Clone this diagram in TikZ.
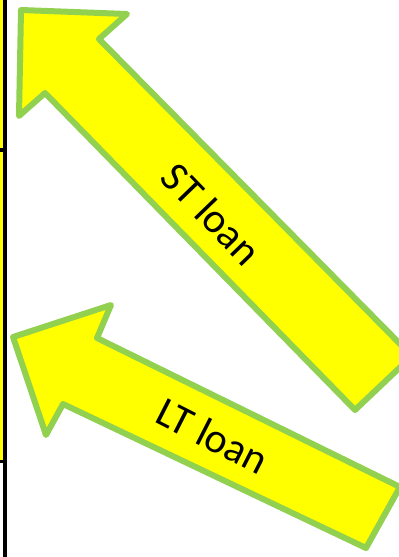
\documentclass[tikz,border=0pt]{standalone}
\usepackage{fontspec}
\setmainfont{Carlito}
\definecolor{arrowgreen}{RGB}{146,208,80}
\definecolor{arrowyellow}{RGB}{255,255,0}
\tikzset{
  bigarrow/.style={draw=arrowgreen, fill=arrowyellow, line width=6pt, line join=round},
  arrowlabel/.style={font=\fontsize{42}{50}\selectfont, text=black, inner sep=0pt}
}
\begin{document}
\begin{tikzpicture}[x=1pt,y=-1pt]
\useasboundingbox (0,0) rectangle (399,557);
% left edge strip
\fill[arrowyellow] (0,0) rectangle (3,148);
\fill[arrowyellow] (0,152) rectangle (3,460);
\fill[black] (3,0) rectangle (7,557);
\fill[black] (0,148) rectangle (3,152);
\fill[black] (0,460) rectangle (3,463);
% ST loan arrow
\path[bigarrow] (21,10) -- (127,14) -- (99,39) -- (412,356) -- (355,410)
  -- (45,93) -- (19,116) -- cycle;
% LT loan arrow
\path[bigarrow] (13,337) -- (111,305) -- (97,338) -- (400,487) -- (366,548)
  -- (63,404) -- (46,435) -- cycle;
\node[arrowlabel, rotate=-46] (st) at (212,214) {ST loan};
\node[arrowlabel, rotate=-27] (lt) at (213,436) {LT loan};
\end{tikzpicture}
\end{document}
